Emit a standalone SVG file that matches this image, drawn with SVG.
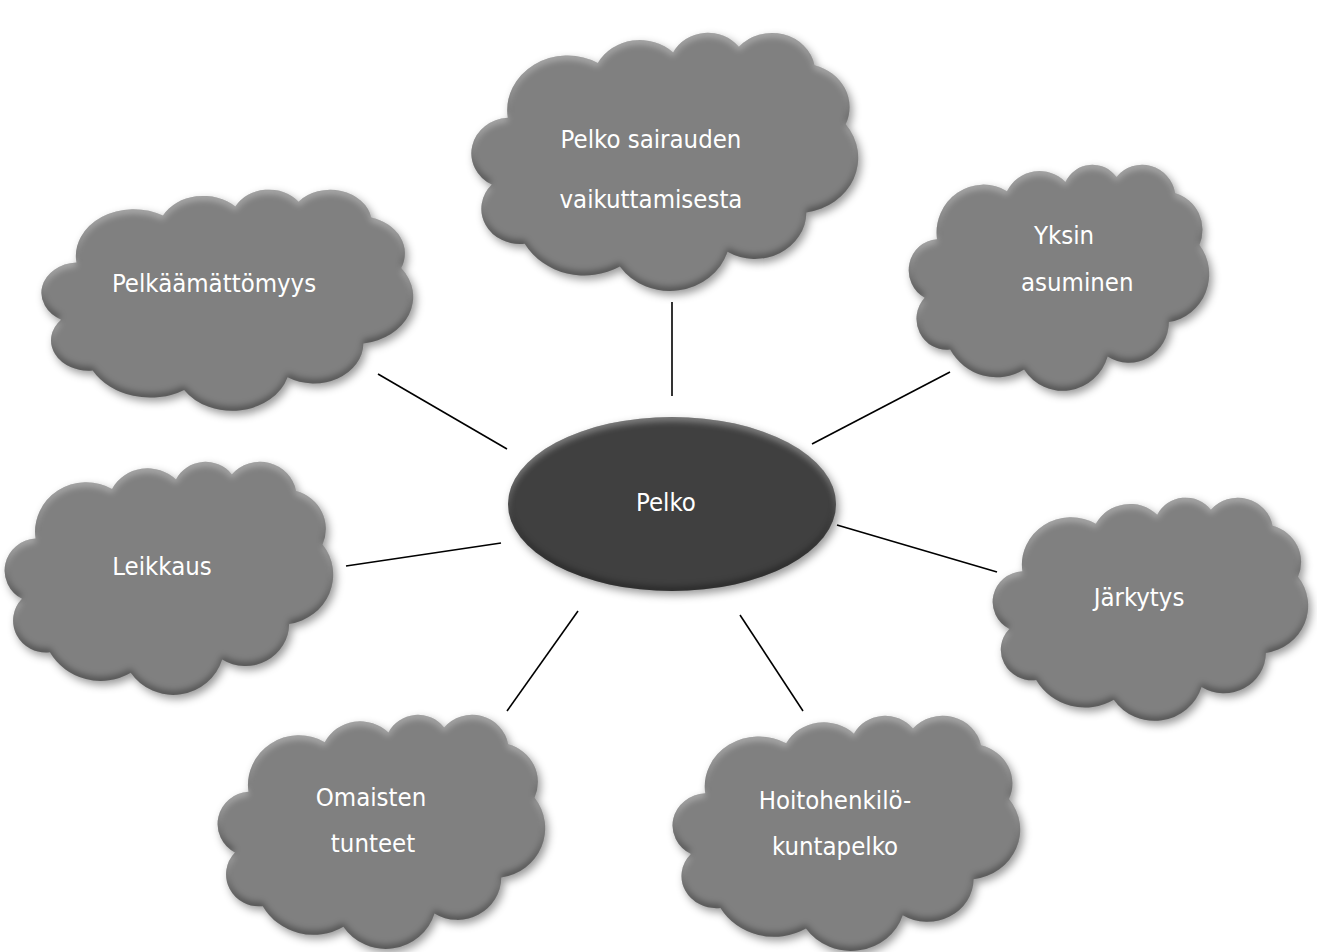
<svg xmlns="http://www.w3.org/2000/svg" width="1317" height="952" viewBox="0 0 1317 952">
<style>
 .cloud{fill:#808080}
 .hub{fill:#404040}
 .lbl{font-family:"DejaVu Sans Condensed","DejaVu Sans",sans-serif;font-stretch:condensed;font-size:25.5px;fill:#ffffff}
 .mid{text-anchor:middle}
 .conn line{stroke:#000000;stroke-width:1.6;stroke-linecap:butt}
</style>
<defs>
 <path id="cloudShape" d="M 9.028 33.264 A 15.632 21.273 0 0 1 32.419 12.042 A 12.345 16.822 0 0 1 51.981 7.947 A 10.104 13.762 0 0 1 69.060 5.748 A 11.243 15.266 0 0 1 88.701 12.914 A 12.345 16.836 0 0 1 96.803 35.794 A 15.683 21.343 0 0 1 86.583 69.917 A 13.391 18.211 0 0 1 66.102 85.218 A 15.630 21.331 0 0 1 38.150 90.894 A 17.870 24.405 0 0 1 13.435 82.106 A 10.093 13.699 0 0 1 4.891 59.139 A 10.058 13.762 0 0 1 9.028 33.264 Z"/>
 <filter id="bevel" x="-10%" y="-10%" width="125%" height="130%" color-interpolation-filters="sRGB">
  <feGaussianBlur in="SourceAlpha" stdDeviation="3" result="b"/>
  <feOffset in="b" dx="0" dy="4" result="bd"/>
  <feComposite in="SourceAlpha" in2="bd" operator="out" result="hiA"/>
  <feFlood flood-color="#ffffff" flood-opacity="0.35"/>
  <feComposite in2="hiA" operator="in" result="hi"/>
  <feOffset in="b" dx="0" dy="-4" result="bu"/>
  <feComposite in="SourceAlpha" in2="bu" operator="out" result="loA"/>
  <feFlood flood-color="#000000" flood-opacity="0.35"/>
  <feComposite in2="loA" operator="in" result="lo"/>
  <feGaussianBlur in="SourceAlpha" stdDeviation="4" result="sb"/>
  <feOffset in="sb" dx="3" dy="4" result="so"/>
  <feFlood flood-color="#000000" flood-opacity="0.4"/>
  <feComposite in2="so" operator="in" result="sh"/>
  <feMerge>
   <feMergeNode in="sh"/>
   <feMergeNode in="SourceGraphic"/>
   <feMergeNode in="hi"/>
   <feMergeNode in="lo"/>
  </feMerge>
 </filter>
</defs>
<rect width="1317" height="952" fill="#ffffff"/>

<g id="connectors" class="conn">
 <line x1="672" y1="302" x2="672" y2="396"/>
 <line x1="378" y1="374" x2="507" y2="449"/>
 <line x1="950" y1="372" x2="812" y2="444"/>
 <line x1="346" y1="566" x2="501" y2="543"/>
 <line x1="837" y1="525" x2="997" y2="572"/>
 <line x1="578" y1="611" x2="507" y2="711"/>
 <line x1="740" y1="615" x2="803" y2="711"/>
</g>

<g id="node-pelko-sairauden">
 <g filter="url(#bevel)"><use href="#cloudShape" class="cloud" transform="translate(473,32) scale(3.85,2.58)"/></g>
 <text class="lbl mid" x="651" y="148">Pelko sairauden</text>
 <text class="lbl mid" x="651" y="208">vaikuttamisesta</text>
</g>

<g id="node-pelkaamattomyys">
 <g filter="url(#bevel)"><use href="#cloudShape" class="cloud" transform="translate(43,189) scale(3.70,2.21)"/></g>
 <text class="lbl mid" x="214" y="292">Pelkäämättömyys</text>
</g>

<g id="node-yksin-asuminen">
 <g filter="url(#bevel)"><use href="#cloudShape" class="cloud" transform="translate(910,164) scale(2.99,2.26)"/></g>
 <text class="lbl" x="1034" y="244">Yksin</text>
 <text class="lbl" x="1021" y="291">asuminen</text>
</g>

<g id="node-jarkytys">
 <g filter="url(#bevel)"><use href="#cloudShape" class="cloud" transform="translate(994,497) scale(3.14,2.23)"/></g>
 <text class="lbl mid" x="1139" y="606">Järkytys</text>
</g>

<g id="node-leikkaus">
 <g filter="url(#bevel)"><use href="#cloudShape" class="cloud" transform="translate(6,461) scale(3.27,2.33)"/></g>
 <text class="lbl mid" x="162" y="575">Leikkaus</text>
</g>

<g id="node-omaisten-tunteet">
 <g filter="url(#bevel)"><use href="#cloudShape" class="cloud" transform="translate(219,714) scale(3.26,2.34)"/></g>
 <text class="lbl mid" x="371" y="806">Omaisten</text>
 <text class="lbl mid" x="373" y="852">tunteet</text>
</g>

<g id="node-hoitohenkilokuntapelko">
 <g filter="url(#bevel)"><use href="#cloudShape" class="cloud" transform="translate(674,715) scale(3.46,2.35)"/></g>
 <text class="lbl mid" x="835" y="809">Hoitohenkilö-</text>
 <text class="lbl mid" x="835" y="855">kuntapelko</text>
</g>

<g id="node-pelko">
 <g filter="url(#bevel)"><ellipse class="hub" cx="672" cy="504" rx="164" ry="87"/></g>
 <text class="lbl mid" x="666" y="511">Pelko</text>
</g>
</svg>
